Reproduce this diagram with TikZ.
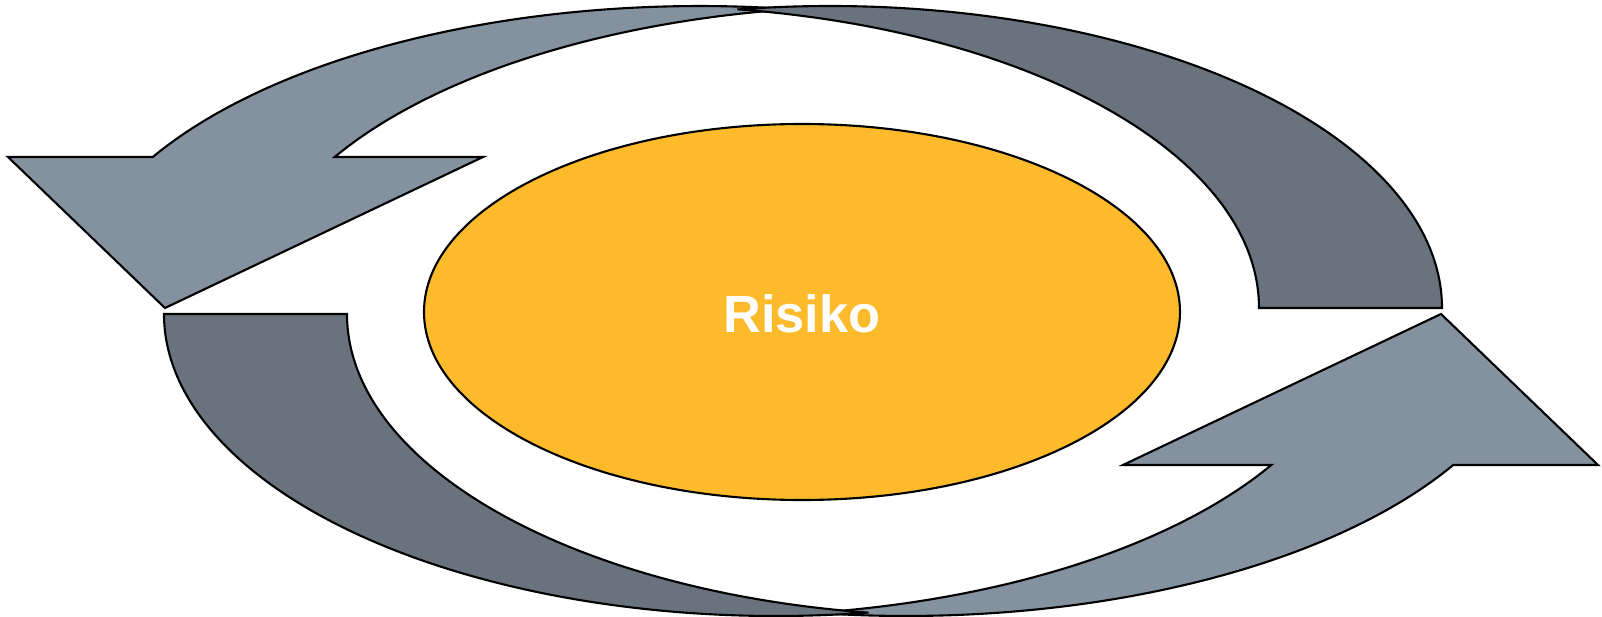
\documentclass[tikz,border=0pt]{standalone}
\usepackage{fontspec}
\setmainfont{Liberation Sans}
\definecolor{lightarrow}{HTML}{84919E}
\definecolor{darkarrow}{HTML}{68737D}
\definecolor{riskorange}{HTML}{FDBA2A}
\begin{document}
\begin{tikzpicture}[x=0.1mm,y=-0.1mm,
  band/.style={draw=black,line width=0.6pt,line join=miter}]
\useasboundingbox (0,0) rectangle (1602,617);
\def\rl{632} \def\rd{612} \def\ry{302}
% light arrows
\filldraw [band,fill=lightarrow] (791.3,9.2) arc[start angle=-81.7,end angle=-150,x radius=\rl,y radius=\ry]
  -- (8,157) -- (165,308) -- (483,157) -- (334.7,157)
  arc[start angle=-150,end angle=-98.3,x radius=\rl,y radius=\ry] -- cycle; % top left
\filldraw [band,fill=lightarrow] (814.7,612.8) arc[start angle=98.3,end angle=30,x radius=\rl,y radius=\ry]
  -- (1598,465) -- (1441,314) -- (1123,465) -- (1271.3,465)
  arc[start angle=30,end angle=81.7,x radius=\rl,y radius=\ry] -- cycle; % bottom right
% dark arrows
\filldraw [band,fill=darkarrow] (738.5,9.4) arc[start angle=-98.6,end angle=0,x radius=\rd,y radius=\ry]
  -- (1259,308)
  arc[start angle=0,end angle=-81.4,x radius=\rd,y radius=\ry] -- cycle; % top right
\filldraw [band,fill=darkarrow] (867.5,612.6) arc[start angle=81.4,end angle=180,x radius=\rd,y radius=\ry]
  -- (347,314)
  arc[start angle=180,end angle=98.6,x radius=\rd,y radius=\ry] -- cycle; % bottom left
% centre
\filldraw [band,fill=riskorange] (802,312) ellipse [x radius=378,y radius=188];
\node [text=white,font=\fontsize{14.9}{18}\selectfont\bfseries] (risk) at (802,314) {Risiko};
\end{tikzpicture}
\end{document}
